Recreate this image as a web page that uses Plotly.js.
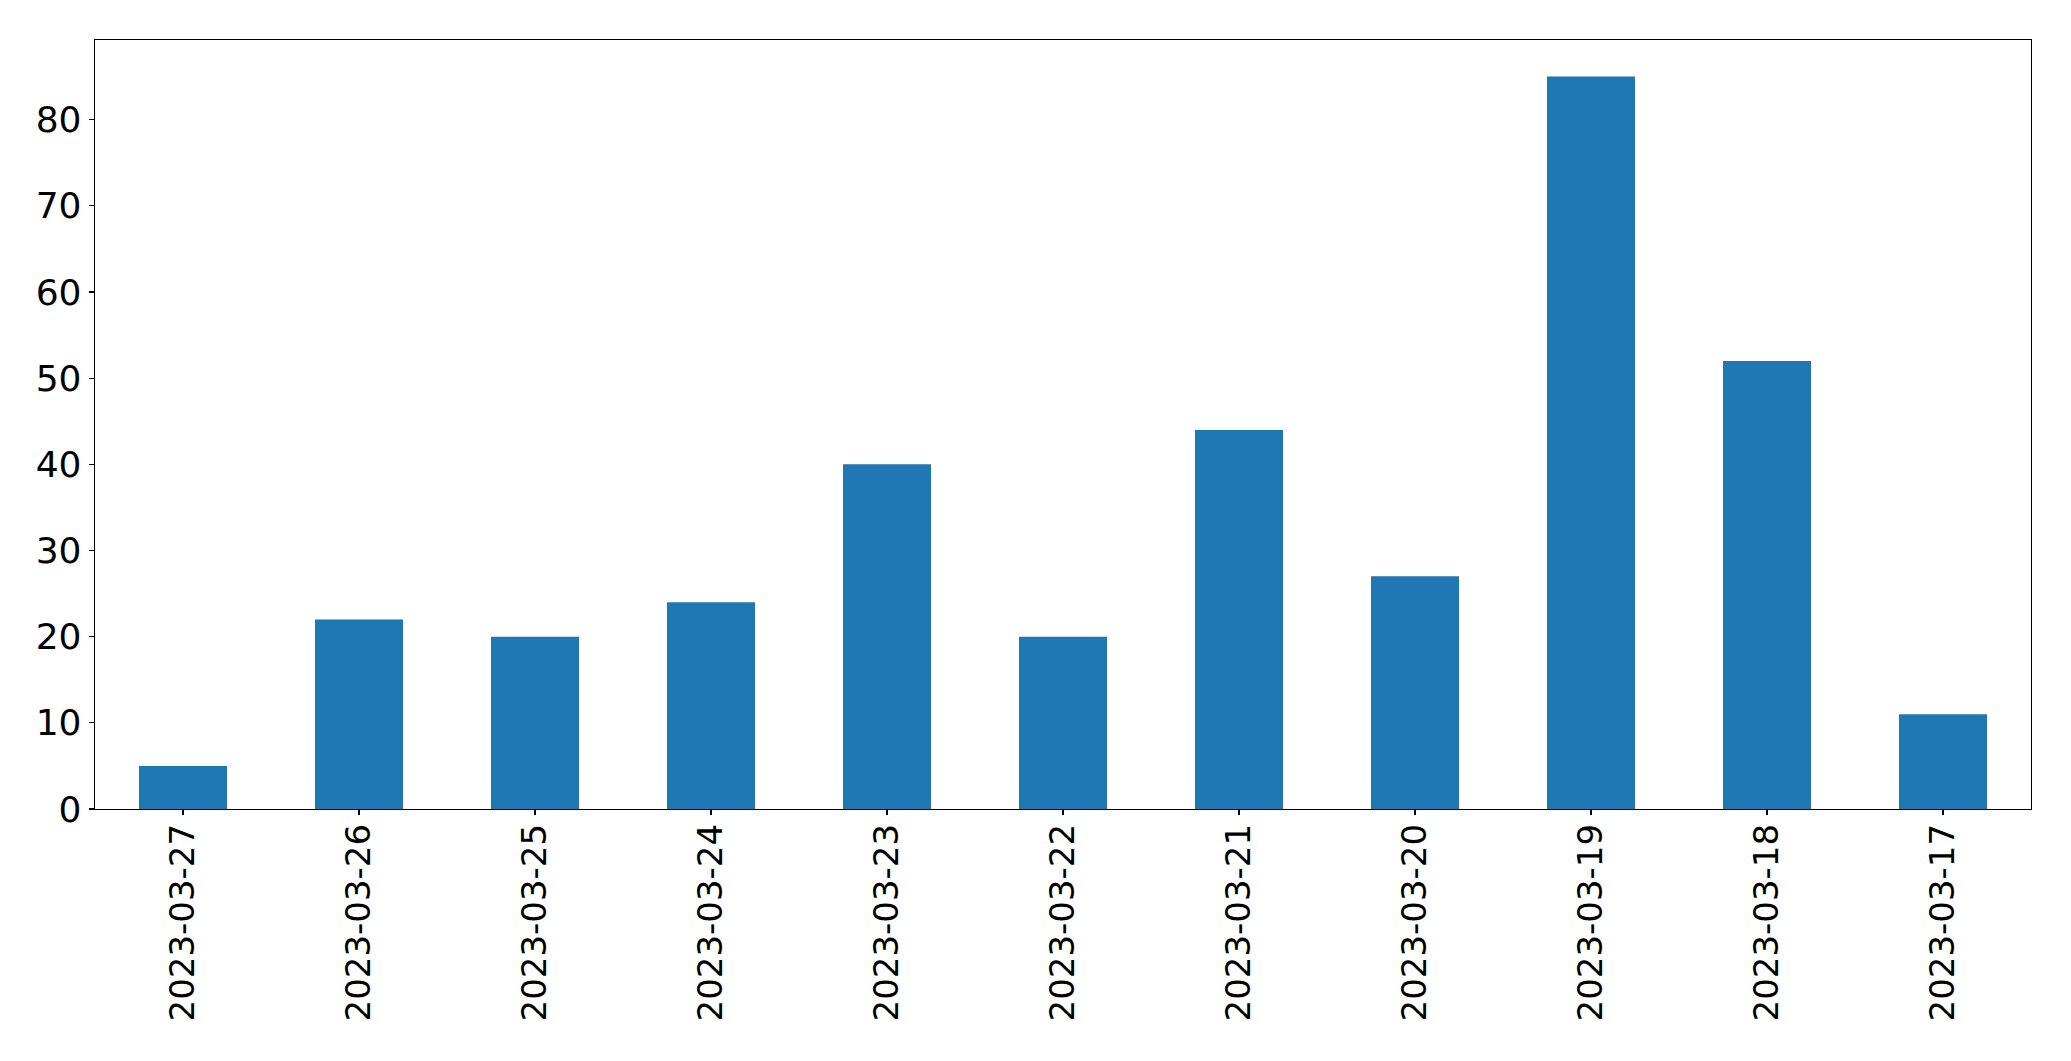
<!DOCTYPE html>
<html>
<head>
<meta charset="utf-8">
<script src="https://cdn.plot.ly/plotly-3.0.1.min.js"></script>
<style>html,body{margin:0;padding:0;background:#fff;}#chart{width:2071px;height:1061px;}</style>
</head>
<body>
<div id="chart"></div>
<script>
const dates = ["2023-03-27","2023-03-26","2023-03-25","2023-03-24","2023-03-23","2023-03-22","2023-03-21","2023-03-20","2023-03-19","2023-03-18","2023-03-17"];
const counts = [5, 22, 20, 24, 40, 20, 44, 27, 85, 52, 11];
const yTicks = [0, 10, 20, 30, 40, 50, 60, 70, 80];

const trace = {
  type: "bar",
  x: dates,
  y: counts,
  marker: {color: "#1f77b4", line: {width: 0}},
  hoverinfo: "x+y"
};

const axisCommon = {
  showline: true,
  linecolor: "#000",
  linewidth: 1.3,
  mirror: true,
  showgrid: false,
  zeroline: false,
  ticks: "outside",
  ticklen: 5,
  tickwidth: 1.1,
  tickcolor: "#000",
  tickfont: {family: "DejaVu Sans", size: 34, color: "#000"},
  automargin: false
};

const layout = {
  width: 2071,
  height: 1061,
  margin: {l: 94.5, r: 39.5, t: 39.5, b: 252, pad: 0},
  paper_bgcolor: "#fff",
  plot_bgcolor: "#fff",
  showlegend: false,
  bargap: 0.5,
  xaxis: Object.assign({}, axisCommon, {
    type: "category",
    categoryorder: "array",
    categoryarray: dates,
    range: [-0.5, dates.length - 0.5],
    tickangle: -90,
    ticklabelstandoff: -5
  }),
  yaxis: Object.assign({}, axisCommon, {
    range: [0, Math.max(...counts) * 1.05],
    tickmode: "array",
    tickvals: yTicks,
    ticktext: yTicks.map(String),
    tickfont: {family: "DejaVu Sans", size: 36, color: "#000"}
  })
};

Plotly.newPlot("chart", [trace], layout, {displayModeBar: false, staticPlot: true});
</script>
</body>
</html>
